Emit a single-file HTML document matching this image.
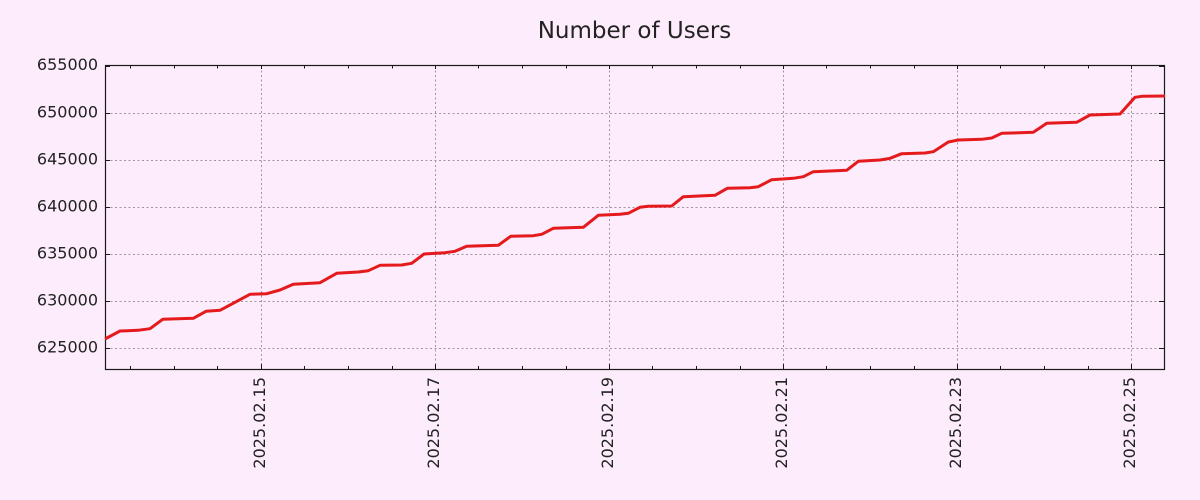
<!DOCTYPE html>
<html>
<head>
<meta charset="utf-8">
<style>
  html, body { margin: 0; padding: 0; background: #fcecfc; }
  svg { display: block; }
  text { font-family: "DejaVu Sans", "Liberation Sans", sans-serif; fill: #222; }
</style>
</head>
<body>
<svg width="1200" height="500" viewBox="0 0 1200 500" xmlns="http://www.w3.org/2000/svg">
  <rect x="0" y="0" width="1200" height="500" fill="#fcecfc"/>

  <!-- Title -->
  <text x="634.5" y="38" font-size="23" text-anchor="middle">Number of Users</text>

  <!-- Horizontal grid -->
  <g stroke="#a096a0" stroke-width="1" stroke-dasharray="2,2.5">
    <line x1="106" y1="113.5" x2="1164" y2="113.5"/>
    <line x1="106" y1="160.5" x2="1164" y2="160.5"/>
    <line x1="106" y1="207.5" x2="1164" y2="207.5"/>
    <line x1="106" y1="254.5" x2="1164" y2="254.5"/>
    <line x1="106" y1="301.5" x2="1164" y2="301.5"/>
    <line x1="106" y1="348.5" x2="1164" y2="348.5"/>
  </g>
  <!-- Vertical grid -->
  <g stroke="#a096a0" stroke-width="1" stroke-dasharray="2,2.5">
    <line x1="261.5" y1="66" x2="261.5" y2="369"/>
    <line x1="435.5" y1="66" x2="435.5" y2="369"/>
    <line x1="609.5" y1="66" x2="609.5" y2="369"/>
    <line x1="783.5" y1="66" x2="783.5" y2="369"/>
    <line x1="957.5" y1="66" x2="957.5" y2="369"/>
    <line x1="1131.5" y1="66" x2="1131.5" y2="369"/>
  </g>

  <!-- Y ticks -->
  <g stroke="#1a1a1a" stroke-width="1">
    <line x1="105" y1="66.5" x2="110" y2="66.5"/>
    <line x1="105" y1="113.5" x2="110" y2="113.5"/>
    <line x1="105" y1="160.5" x2="110" y2="160.5"/>
    <line x1="105" y1="207.5" x2="110" y2="207.5"/>
    <line x1="105" y1="254.5" x2="110" y2="254.5"/>
    <line x1="105" y1="301.5" x2="110" y2="301.5"/>
    <line x1="105" y1="348.5" x2="110" y2="348.5"/>
    <line x1="1159" y1="66.5" x2="1164" y2="66.5"/>
    <line x1="1159" y1="113.5" x2="1164" y2="113.5"/>
    <line x1="1159" y1="160.5" x2="1164" y2="160.5"/>
    <line x1="1159" y1="207.5" x2="1164" y2="207.5"/>
    <line x1="1159" y1="254.5" x2="1164" y2="254.5"/>
    <line x1="1159" y1="301.5" x2="1164" y2="301.5"/>
    <line x1="1159" y1="348.5" x2="1164" y2="348.5"/>
  </g>

  <!-- X ticks: bottom minor (every 43.5px), major at labels -->
  <g stroke="#1a1a1a" stroke-width="1">
    <!-- minor bottom -->
    <line x1="130.5" y1="366" x2="130.5" y2="369"/>
    <line x1="174.5" y1="366" x2="174.5" y2="369"/>
    <line x1="217.5" y1="366" x2="217.5" y2="369"/>
    <line x1="304.5" y1="366" x2="304.5" y2="369"/>
    <line x1="348.5" y1="366" x2="348.5" y2="369"/>
    <line x1="392.5" y1="366" x2="392.5" y2="369"/>
    <line x1="478.5" y1="366" x2="478.5" y2="369"/>
    <line x1="522.5" y1="366" x2="522.5" y2="369"/>
    <line x1="566.5" y1="366" x2="566.5" y2="369"/>
    <line x1="652.5" y1="366" x2="652.5" y2="369"/>
    <line x1="696.5" y1="366" x2="696.5" y2="369"/>
    <line x1="740.5" y1="366" x2="740.5" y2="369"/>
    <line x1="826.5" y1="366" x2="826.5" y2="369"/>
    <line x1="870.5" y1="366" x2="870.5" y2="369"/>
    <line x1="914.5" y1="366" x2="914.5" y2="369"/>
    <line x1="1000.5" y1="366" x2="1000.5" y2="369"/>
    <line x1="1044.5" y1="366" x2="1044.5" y2="369"/>
    <line x1="1088.5" y1="366" x2="1088.5" y2="369"/>
    <!-- major bottom -->
    <line x1="261.5" y1="364" x2="261.5" y2="369"/>
    <line x1="435.5" y1="364" x2="435.5" y2="369"/>
    <line x1="609.5" y1="364" x2="609.5" y2="369"/>
    <line x1="783.5" y1="364" x2="783.5" y2="369"/>
    <line x1="957.5" y1="364" x2="957.5" y2="369"/>
    <line x1="1131.5" y1="364" x2="1131.5" y2="369"/>
    <!-- top ticks -->
    <line x1="130.5" y1="65" x2="130.5" y2="68.5"/>
    <line x1="174.5" y1="65" x2="174.5" y2="68.5"/>
    <line x1="217.5" y1="65" x2="217.5" y2="68.5"/>
    <line x1="261.5" y1="65" x2="261.5" y2="69"/>
    <line x1="304.5" y1="65" x2="304.5" y2="68.5"/>
    <line x1="348.5" y1="65" x2="348.5" y2="68.5"/>
    <line x1="392.5" y1="65" x2="392.5" y2="68.5"/>
    <line x1="435.5" y1="65" x2="435.5" y2="69"/>
    <line x1="478.5" y1="65" x2="478.5" y2="68.5"/>
    <line x1="522.5" y1="65" x2="522.5" y2="68.5"/>
    <line x1="566.5" y1="65" x2="566.5" y2="68.5"/>
    <line x1="609.5" y1="65" x2="609.5" y2="69"/>
    <line x1="652.5" y1="65" x2="652.5" y2="68.5"/>
    <line x1="696.5" y1="65" x2="696.5" y2="68.5"/>
    <line x1="740.5" y1="65" x2="740.5" y2="68.5"/>
    <line x1="783.5" y1="65" x2="783.5" y2="69"/>
    <line x1="826.5" y1="65" x2="826.5" y2="68.5"/>
    <line x1="870.5" y1="65" x2="870.5" y2="68.5"/>
    <line x1="914.5" y1="65" x2="914.5" y2="68.5"/>
    <line x1="957.5" y1="65" x2="957.5" y2="69"/>
    <line x1="1000.5" y1="65" x2="1000.5" y2="68.5"/>
    <line x1="1044.5" y1="65" x2="1044.5" y2="68.5"/>
    <line x1="1088.5" y1="65" x2="1088.5" y2="68.5"/>
    <line x1="1131.5" y1="65" x2="1131.5" y2="69"/>
  </g>

  <!-- Frame -->
  <rect x="105.5" y="65.5" width="1059" height="304" fill="none" stroke="#1a1a1a" stroke-width="1.2"/>

  <!-- Y labels -->
  <g font-size="16" text-anchor="end">
    <text x="98" y="70">655000</text>
    <text x="98" y="117.5">650000</text>
    <text x="98" y="164.5">645000</text>
    <text x="98" y="211.5">640000</text>
    <text x="98" y="258.5">635000</text>
    <text x="98" y="305.5">630000</text>
    <text x="98" y="352.5">625000</text>
  </g>

  <!-- X labels (rotated) -->
  <g font-size="16" text-anchor="end">
    <text transform="translate(265,377) rotate(-90)">2025.02.15</text>
    <text transform="translate(439,377) rotate(-90)">2025.02.17</text>
    <text transform="translate(613,377) rotate(-90)">2025.02.19</text>
    <text transform="translate(787,377) rotate(-90)">2025.02.21</text>
    <text transform="translate(961,377) rotate(-90)">2025.02.23</text>
    <text transform="translate(1135,377) rotate(-90)">2025.02.25</text>
  </g>

  <!-- Data series -->
  <polyline fill="none" stroke="#e41a1c" stroke-width="3" stroke-linejoin="round"
    points="105,339 120,331 138,330.3 150,328.7 162.7,319.3 193.3,318.3 206,311.3 220,310.3 250,294.3 266.7,293.7 280,290 293.3,284.3 320,282.7 336.7,273.3 358.3,272 368.3,270.7 380,265.3 401.7,265 411.7,263.3 424,254 445,252.7 455,251.3 466.7,246.3 498.3,245.3 510.7,236.3 533.3,235.7 541.7,234.3 553.3,228.3 583.3,227.3 598.3,215.3 620,214.3 628.3,213.3 640,207.3 648.3,206.3 671.7,206 683.3,196.7 715,195.3 727.3,188.3 750,187.7 758.3,186.7 771.7,179.7 793.3,178.3 803.3,176.7 813.3,171.7 846.7,170.3 858.3,161.3 880,160 890,158.3 901.7,153.7 925,153 933.3,151.7 948.3,142 958.3,140 981.7,139.3 991.7,138 1001.7,133.3 1033.3,132.3 1046.7,123.3 1076.7,122.3 1090,115 1120,114 1135,97.3 1141.7,96.3 1165,96"/>
</svg>
</body>
</html>
